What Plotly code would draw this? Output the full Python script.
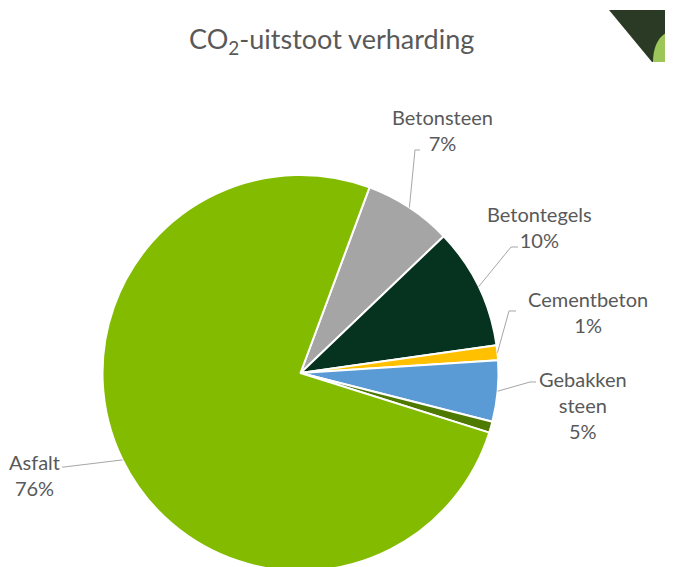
import math
import plotly.graph_objects as go

# data (clockwise from the Asfalt/Betonsteen boundary)
labels = ["Betonsteen", "Betontegels", "Cementbeton", "Gebakken steen", "Overig", "Asfalt"]
values = [7.2, 9.9, 1.2, 5.0, 0.9, 75.8]
colors = ["#A5A5A5", "#06331F", "#FFC000", "#5B9BD5", "#4F7A00", "#82BB00"]
label_text = ["Betonsteen<br>7%", "Betontegels<br>10%", "Cementbeton<br>1%",
              "Gebakken<br>steen<br>5%", None, "Asfalt<br>76%"]

# page has an 8px body margin, so the figure starts at (8, 8)
OFF = 8
W, H = 665, 567
START = 20.4  # degrees clockwise from 12 o'clock

TXT = "#595959"
LINE = "#A6A6A6"
FONT = "Lato, 'Open Sans', sans-serif"


def px2paper(x, y):
    # page pixel -> paper coordinates
    return (x - OFF) / W, 1 - (y - OFF) / H


# pie box on the page: x 102..499, y 175..571
DOM_X = [(102 - OFF) / W, (499 - OFF) / W]
DOM_Y = [1 - (571 - OFF) / H, 1 - (175 - OFF) / H]

r = min((DOM_X[1] - DOM_X[0]) * W, (DOM_Y[1] - DOM_Y[0]) * H) / 2
cx = OFF + (DOM_X[0] + DOM_X[1]) / 2 * W
cy = OFF + H - (DOM_Y[0] + DOM_Y[1]) / 2 * H

total = sum(values)
mid_angles = []
acc = 0.0
for v in values:
    mid_angles.append(START + (acc + v / 2) / total * 360)
    acc += v


def edge(i):
    a = math.radians(mid_angles[i])
    return cx + r * math.sin(a), cy - r * math.cos(a)


fig = go.Figure(go.Pie(
    labels=labels,
    values=values,
    sort=False,
    direction="clockwise",
    rotation=START,
    marker=dict(colors=colors, line=dict(color="white", width=2)),
    textinfo="none",
    hoverinfo="label+percent",
    domain=dict(x=DOM_X, y=DOM_Y),
    showlegend=False,
))

# label centres and leader-line elbows, page pixels
label_pos = {0: (442, 130), 1: (539, 227), 2: (588, 312), 3: (583, 405), 5: (34, 475)}
elbows = {
    0: [(415, 150), (420, 150)],
    1: [(511, 247), (518, 247)],
    2: [(509, 311), (516, 311)],
    3: [(530, 382), (536, 382)],
    5: [(64, 467), (62, 467)],
}


def pp(x, y):
    a, b = px2paper(x, y)
    return f"{a:.5f},{b:.5f}"


annotations = []
shapes = []
for i, txt in enumerate(label_text):
    if txt is None:
        continue
    x, y = px2paper(*label_pos[i])
    annotations.append(dict(
        text=txt, x=x, y=y, xref="paper", yref="paper",
        xanchor="center", yanchor="middle", showarrow=False, align="center",
        font=dict(family=FONT, size=20, color=TXT),
    ))
    pts = [edge(i)] + elbows[i]
    shapes.append(dict(type="path", path="M " + " L ".join(pp(*p) for p in pts),
                       xref="paper", yref="paper", line=dict(color=LINE, width=1)))

# title
tx, ty = px2paper(331, 40)
annotations.append(dict(
    text="CO<sub>2</sub>-uitstoot verharding", x=tx, y=ty, xref="paper", yref="paper",
    xanchor="center", yanchor="middle", showarrow=False,
    font=dict(family=FONT, size=27, color=TXT),
))

# corner decoration (top right)
shapes.append(dict(type="path", xref="paper", yref="paper", layer="above",
                   path=f"M {pp(609, 10)} L {pp(673, 10)} L {pp(673, 62)} L {pp(652, 62)} Z",
                   fillcolor="#2B3A25", line=dict(width=0)))
shapes.append(dict(type="path", xref="paper", yref="paper", layer="above",
                   path=f"M {pp(653, 62)} C {pp(653, 45)} {pp(660, 33)} {pp(673, 30)} L {pp(673, 62)} Z",
                   fillcolor="#9CC65A", line=dict(width=0)))

fig.update_layout(
    width=W, height=H,
    margin=dict(l=0, r=0, t=0, b=0),
    paper_bgcolor="white",
    plot_bgcolor="white",
    annotations=annotations,
    shapes=shapes,
)

fig.write_html("out.html")
